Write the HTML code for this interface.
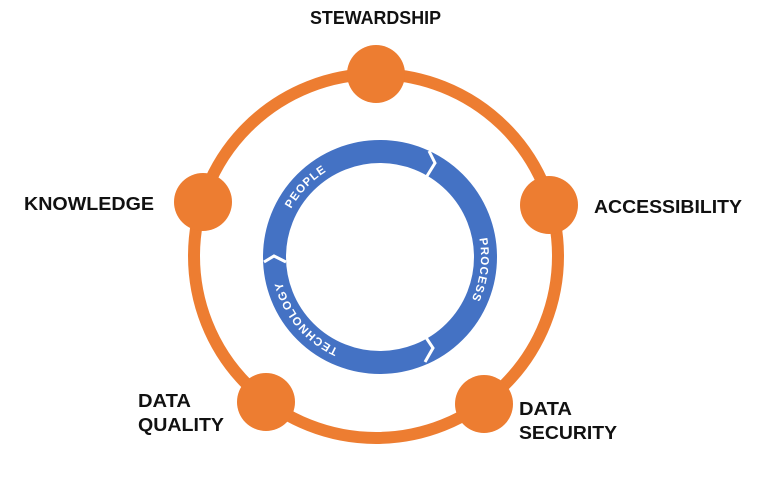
<!DOCTYPE html>
<html><head><style>
html,body{margin:0;padding:0;background:#fff;}
svg{display:block;}
</style></head><body>
<svg width="768" height="481" viewBox="0 0 768 481" xmlns="http://www.w3.org/2000/svg">
<defs>
<path id="ring" d="M 279 257 A 101 101 0 1 1 481 257 A 101 101 0 1 1 279 257"/>
</defs>
<circle cx="376" cy="256" r="182" fill="none" stroke="#ED7D31" stroke-width="12"/>
<g fill="#ED7D31">
<circle cx="376" cy="74" r="29"/>
<circle cx="549" cy="205" r="29"/>
<circle cx="484" cy="404" r="29"/>
<circle cx="266" cy="402" r="29"/>
<circle cx="203" cy="202" r="29"/>
</g>
<circle cx="380" cy="257" r="105.5" fill="none" stroke="#4472C4" stroke-width="23"/>
<g stroke="#fff" stroke-width="3" fill="none">
<polyline points="429,151 435,163 427,176"/>
<polyline points="264,262 274,256 286,262"/>
<polyline points="425,336 433,348 425,362"/>
</g>
<g font-family="Liberation Sans, sans-serif" font-weight="bold" font-size="11.5" fill="#fff" letter-spacing="1">
<text><textPath href="#ring" startOffset="50">PEOPLE</textPath></text>
<text><textPath href="#ring" startOffset="298">PROCESS</textPath></text>
<text><textPath href="#ring" startOffset="518">TECHNOLOGY</textPath></text>
</g>
<g font-family="Liberation Sans, sans-serif" font-weight="bold" font-size="18" fill="#111">
<text x="310" y="24" textLength="131" lengthAdjust="spacingAndGlyphs">STEWARDSHIP</text>
<text x="594" y="213" textLength="148" lengthAdjust="spacingAndGlyphs">ACCESSIBILITY</text>
<text x="24" y="210" textLength="130" lengthAdjust="spacingAndGlyphs">KNOWLEDGE</text>
<text x="138" y="407" textLength="53" lengthAdjust="spacingAndGlyphs">DATA</text>
<text x="138" y="431" textLength="86" lengthAdjust="spacingAndGlyphs">QUALITY</text>
<text x="519" y="415" textLength="53" lengthAdjust="spacingAndGlyphs">DATA</text>
<text x="519" y="439" textLength="98" lengthAdjust="spacingAndGlyphs">SECURITY</text>
</g>
</svg>
</body></html>
